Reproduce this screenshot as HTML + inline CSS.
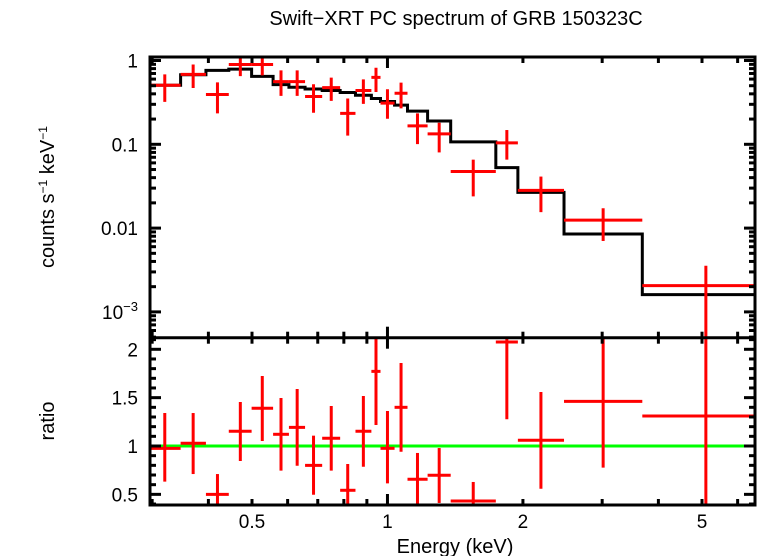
<!DOCTYPE html>
<html><head><meta charset="utf-8"><style>
html,body{margin:0;padding:0;background:#fff;}
svg{display:block;font-family:"Liberation Sans",Arial,sans-serif;}
</style></head><body>
<svg id="chart" width="758" height="556" viewBox="0 0 758 556" xmlns="http://www.w3.org/2000/svg">
<text x="456" y="25" font-size="20" text-anchor="middle">Swift−XRT PC spectrum of GRB 150323C</text>
<text transform="translate(54,197) rotate(-90)" font-size="20" text-anchor="middle">counts s<tspan font-size="12" dy="-7">−1</tspan><tspan dy="7"> keV</tspan><tspan font-size="12" dy="-7">−1</tspan></text>
<text transform="translate(54,421) rotate(-90)" font-size="20" text-anchor="middle">ratio</text>
<text x="455" y="553" font-size="20" text-anchor="middle">Energy (keV)</text>
<g id="marks"></g>
</svg>
<script>
const eLo  = [0.296,0.347,0.395,0.444,0.499,0.557,0.604,0.656,0.716,0.785,0.849,0.921,0.965,1.037,1.108,1.228,1.382,1.741,1.949,2.468,3.684];
const eHi  = [0.347,0.395,0.444,0.499,0.557,0.604,0.656,0.716,0.785,0.849,0.921,0.965,1.037,1.108,1.228,1.382,1.741,1.949,2.468,3.684,6.615];
const eMid = [0.320,0.370,0.419,0.471,0.527,0.580,0.630,0.685,0.750,0.816,0.884,0.943,1.000,1.072,1.166,1.303,1.551,1.842,2.193,3.015,5.1];
const rate   = [0.506,0.683,0.393,0.897,0.897,0.560,0.560,0.372,0.475,0.234,0.438,0.629,0.310,0.407,0.166,0.133,0.0473,0.104,0.0282,0.01244,0.00206];
const rateLo = [0.321,0.470,0.234,0.652,0.664,0.378,0.378,0.238,0.330,0.127,0.304,0.421,0.202,0.268,0.1005,0.080,0.0239,0.0656,0.0155,0.00702,0.00001];
const rateHi = [0.683,0.897,0.549,1.146,1.115,0.762,0.762,0.520,0.624,0.352,0.596,0.820,0.454,0.545,0.234,0.181,0.0656,0.148,0.0412,0.01725,0.00355];
const model  = [0.506,0.677,0.762,0.789,0.647,0.516,0.479,0.457,0.438,0.415,0.385,0.352,0.324,0.293,0.249,0.190,0.107,0.0527,0.0267,0.00849,0.00161];
const ratio   = [0.976,1.028,0.500,1.152,1.390,1.121,1.193,0.800,1.080,0.542,1.152,1.772,0.976,1.400,0.656,0.697,0.431,2.075,1.059,1.462,1.310];
const ratioLo = [0.631,0.710,0.30,0.845,1.052,0.745,0.796,0.496,0.745,0.30,0.786,1.217,0.614,0.941,0.390,0.411,0.30,1.276,0.558,0.776,0.30];
const ratioHi = [1.341,1.341,0.710,1.455,1.724,1.496,1.589,1.107,1.414,0.814,1.517,2.138,1.362,1.858,0.928,0.979,0.628,2.5,1.558,2.5,2.5];
const yTopTicks = [1,0.1,0.01];
const yTopTickLabels = ["1","0.1","0.01"];
const yBotTicks = [0.5,1,1.5,2];
const yBotTickLabels = ["0.5","1","1.5","2"];
const xTicks = [0.5,1,2,5];
const xTickLabels = ["0.5","1","2","5"];

const L=150,R=755,T=57,M=337.7,B=505;
const X=e=>252+450*Math.log10(e/0.5);
const YT=v=>60.5-83.8*Math.log10(v);
const YB=r=>446-96.7*(r-1);
const NS="http://www.w3.org/2000/svg";
const g=document.getElementById('marks');
function mk(tag,attrs,parent){const el=document.createElementNS(NS,tag);for(const k in attrs)el.setAttribute(k,attrs[k]);(parent||g).appendChild(el);return el;}

const defs=mk('defs',{});
const c1=mk('clipPath',{id:'cTop'},defs);mk('rect',{x:L,y:T,width:R-L,height:M-T},c1);
const c2=mk('clipPath',{id:'cBot'},defs);mk('rect',{x:L,y:M,width:R-L,height:B-M},c2);
const gTop=mk('g',{'clip-path':'url(#cTop)'});


const gBot=mk('g',{'clip-path':'url(#cBot)'});



let d='';
for(let i=0;i<model.length;i++){
  const y=YT(model[i]);
  d+=(i===0?'M':'L')+X(eLo[i])+','+y+' L'+X(eHi[i])+','+y+' ';
}
const mp=mk('path',{d:d,fill:'none',stroke:'#000','stroke-width':3},gTop);



for(let i=0;i<rate.length;i++){
  const gg=mk('g',{stroke:'#f00','stroke-width':3},gTop);
  
  
  mk('line',{x1:X(eLo[i]),x2:X(eHi[i]),y1:YT(rate[i]),y2:YT(rate[i])},gg);
  mk('line',{x1:X(eMid[i]),x2:X(eMid[i]),y1:YT(rateLo[i]),y2:YT(rateHi[i])},gg);
}
const gl=mk('line',{x1:L,x2:R,y1:YB(1),y2:YB(1),stroke:'#0f0','stroke-width':3},gBot);


for(let i=0;i<ratio.length;i++){
  const gg=mk('g',{stroke:'#f00','stroke-width':3},gBot);
  
  
  mk('line',{x1:X(eLo[i]),x2:X(eHi[i]),y1:YB(ratio[i]),y2:YB(ratio[i])},gg);
  mk('line',{x1:X(eMid[i]),x2:X(eMid[i]),y1:YB(ratioLo[i]),y2:YB(ratioHi[i])},gg);
}

const ax=mk('g',{stroke:'#000','stroke-width':3,fill:'none'});


mk('rect',{x:L,y:T,width:R-L,height:B-T},ax);
mk('line',{x1:L,x2:R,y1:M,y2:M},ax);
const minorX=[0.3,0.4,0.5,0.6,0.7,0.8,0.9,2,3,4,5,6];
for(const e of minorX){const x=X(e);
  for(const [a,b] of [[T,T+6],[M-6,M+6],[B-6,B]]) mk('line',{x1:x,x2:x,y1:a,y2:b},ax);}
{const x=X(1);for(const [a,b] of [[T,T+11],[M-11,M+11],[B-11,B]]) mk('line',{x1:x,x2:x,y1:a,y2:b},ax);}
for(let dec=-4;dec<=0;dec++){
  for(let m=1;m<=9;m++){const v=m*Math.pow(10,dec);const y=YT(v);if(y<T||y>M)continue;
    const len=m===1?11:6;
    mk('line',{x1:L,x2:L+len,y1:y,y2:y},ax);mk('line',{x1:R-len,x2:R,y1:y,y2:y},ax);}
}
for(let k=4;k<=21;k++){const r=k/10;const y=YB(r);if(y<M||y>B)continue;
  const len=(k%5===0)?11:6;
  mk('line',{x1:L,x2:L+len,y1:y,y2:y},ax);mk('line',{x1:R-len,x2:R,y1:y,y2:y},ax);}

const lab=mk('g',{'font-size':19,fill:'#000'});


yTopTicks.forEach((v,i)=>{const t=mk('text',{x:138,y:YT(v)+7,'text-anchor':'end'},lab);t.textContent=yTopTickLabels[i];
  
  });
{const t=mk('text',{x:138,y:YT(0.001)+7,'text-anchor':'end'},lab);
 
 
 t.innerHTML='10<tspan font-size="13" dy="-8">−3</tspan>';}
yBotTicks.forEach((v,i)=>{const t=mk('text',{x:138,y:YB(v)+7,'text-anchor':'end'},lab);t.textContent=yBotTickLabels[i];
  
  });
xTicks.forEach((v,i)=>{const t=mk('text',{x:X(v),y:528,'text-anchor':'middle'},lab);t.textContent=xTickLabels[i];
  
  });
</script>
</body></html>
